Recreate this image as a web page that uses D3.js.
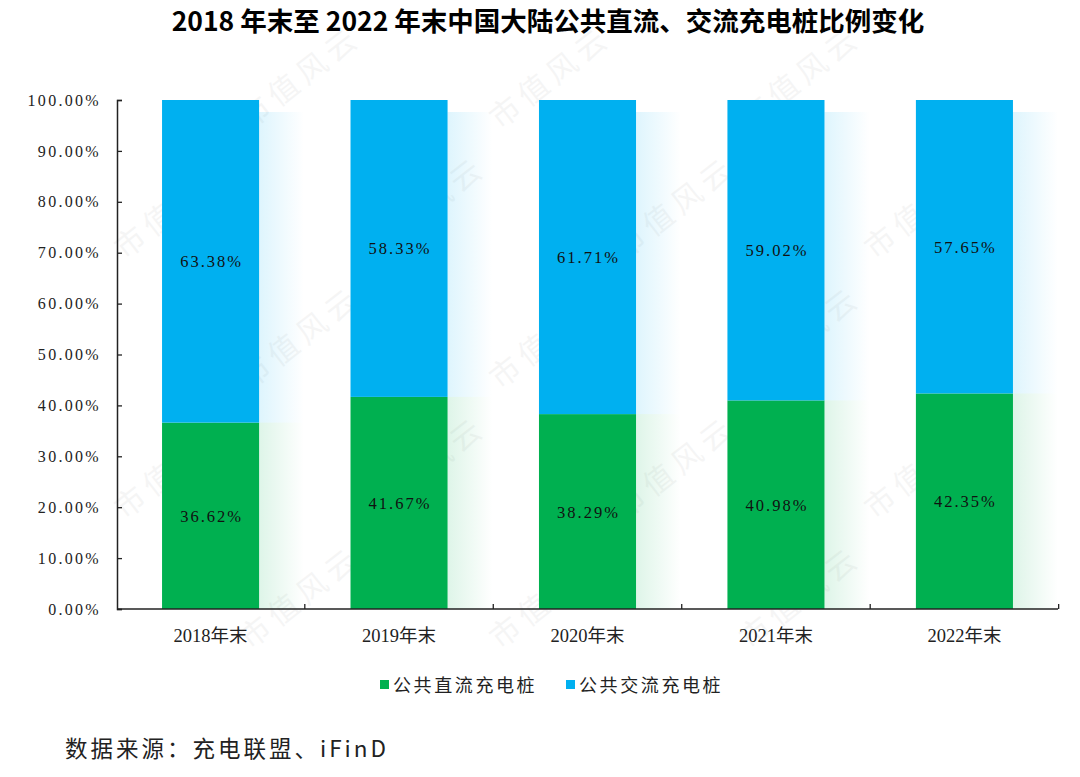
<!DOCTYPE html>
<meta charset="utf-8">
<style>
  body { margin: 0; background: #fff; }
  text { font-family: "Liberation Serif", "Noto Sans CJK SC", serif; }
  .title { font-family: "Noto Sans CJK SC", sans-serif; font-weight: 700; font-size: 26.5px; }
  .tick text { font-size: 16px; fill: #222; letter-spacing: 2.3px; }
  .xlab { font-size: 18.5px; fill: #222; }
  .val { font-size: 16.5px; fill: #111; letter-spacing: 2px; }
  .legend text { font-family: "Noto Sans CJK SC", serif; font-size: 18px; fill: #222; letter-spacing: 2.6px; }
  .src { font-family: "Noto Sans CJK SC", serif; font-size: 22.5px; fill: #222; letter-spacing: 3px; }
  .wm { font-family: "Noto Sans CJK SC", sans-serif; font-size: 30px; fill: #000; opacity: 0.035; letter-spacing: 6px; }
</style>
<body>
<div id="chart"></div>
<script src="https://cdnjs.cloudflare.com/ajax/libs/d3/7.8.5/d3.min.js"></script>
<script>

// data
var years = ["2018年末", "2019年末", "2020年末", "2021年末", "2022年末"];
var dcShare = [36.62, 41.67, 38.29, 40.98, 42.35];   // 公共直流充电桩
var acShare = [63.38, 58.33, 61.71, 59.02, 57.65];   // 公共交流充电桩
var seriesNames = ["公共直流充电桩", "公共交流充电桩"];
var yTicks = [0, 10, 20, 30, 40, 50, 60, 70, 80, 90, 100];

var colors = ["#00B050", "#00B0F0"];

var width = 1080, height = 777;
var margin = {top: 100, left: 117, right: 22, bottom: 168};

var svg = d3.select("#chart").append("svg")
    .attr("width", width)
    .attr("height", height);

// faint watermark, only where it fits fully inside the picture
var wm = svg.append("g");
for (var r = 0; r < 6; r++) {
  for (var c = 0; c < 5; c++) {
    var wx = c * 250 + (r % 2) * 125;
    var wy = 130 + r * 130;
    var t = wm.append("text")
      .attr("class", "wm")
      .attr("transform", "translate(" + wx + "," + wy + ") rotate(-38)")
      .text("市值风云");
    var b = t.node().getBoundingClientRect();
    if (b.left < 2 || b.top < 2 || b.right > width - 2 || b.bottom > height - 2) t.remove();
  }
}

svg.append("text")
    .attr("class", "title")
    .attr("x", 548)
    .attr("y", 31)
    .attr("text-anchor", "middle")
    .text("2018 年末至 2022 年末中国大陆公共直流、交流充电桩比例变化");

var x = d3.scaleBand()
    .domain(years)
    .range([margin.left, width - margin.right])
    .paddingInner(0.485)
    .paddingOuter(0.239);

var y = d3.scaleLinear()
    .domain([0, 100])
    .range([height - margin.bottom, margin.top]);

// stacked data
var rows = years.map(function(yr, i) { return {year: yr, dc: dcShare[i], ac: acShare[i]}; });
var stack = d3.stack().keys(["dc", "ac"])(rows);

var defs = svg.append("defs");
colors.forEach(function(col, i) {
  var g = defs.append("linearGradient").attr("id", "shade" + i);
  g.append("stop").attr("offset", "0%").attr("stop-color", col).attr("stop-opacity", 0.13);
  g.append("stop").attr("offset", "100%").attr("stop-color", col).attr("stop-opacity", 0);
});

// soft shadows to the right of the bars
stack.forEach(function(layer, li) {
  svg.append("g").selectAll("rect")
    .data(layer)
    .enter().append("rect")
      .attr("x", function(d) { return x(d.data.year) + x.bandwidth(); })
      .attr("y", function(d) { return y(d[1]) + (li == 1 ? 12 : 0); })
      .attr("width", 45)
      .attr("height", function(d) { return y(d[0]) - y(d[1]) - (li == 1 ? 12 : 0); })
      .attr("fill", "url(#shade" + li + ")");
});

stack.forEach(function(layer, li) {
  var g = svg.append("g");
  g.selectAll("rect")
    .data(layer)
    .enter().append("rect")
      .attr("x", function(d) { return x(d.data.year); })
      .attr("y", function(d) { return y(d[1]); })
      .attr("width", x.bandwidth())
      .attr("height", function(d) { return y(d[0]) - y(d[1]); })
      .attr("fill", colors[li]);
  g.selectAll("text")
    .data(layer)
    .enter().append("text")
      .attr("class", "val")
      .attr("x", function(d) { return x(d.data.year) + x.bandwidth() / 2 + 1; })
      .attr("y", function(d) { return (y(d[0]) + y(d[1])) / 2 + 6; })
      .attr("text-anchor", "middle")
      .text(function(d) { return (d[1] - d[0]).toFixed(2) + "%"; });
});

// y axis
var yAxis = svg.append("g")
    .attr("transform", "translate(" + margin.left + ",0)")
    .call(d3.axisRight(y).tickValues(yTicks).tickSize(5)
      .tickFormat(function(d) { return d.toFixed(2) + "%"; }));
yAxis.select(".domain").attr("stroke", "#222").attr("stroke-width", 1.5);
yAxis.selectAll(".tick line").attr("stroke", "#222").attr("stroke-width", 1.3);
yAxis.selectAll(".tick text")
    .attr("x", -16)
    .attr("text-anchor", "end");

// x axis: baseline and upward ticks at category boundaries
var x0 = margin.left, x1 = width - margin.right, base = y(0);
svg.append("line")
    .attr("x1", x0).attr("x2", x1)
    .attr("y1", base).attr("y2", base)
    .attr("stroke", "#222").attr("stroke-width", 1.5);
var step = x.step();
svg.append("g").selectAll("line")
    .data(years)
    .enter().append("line")
      .attr("x1", function(d) { return x(d) + x.bandwidth() / 2 + step / 2; })
      .attr("x2", function(d) { return x(d) + x.bandwidth() / 2 + step / 2; })
      .attr("y1", base).attr("y2", base - 5)
      .attr("stroke", "#222").attr("stroke-width", 1.3);
svg.append("g").selectAll("text")
    .data(years)
    .enter().append("text")
      .attr("class", "xlab")
      .attr("x", function(d) { return x(d) + x.bandwidth() / 2; })
      .attr("y", base + 33)
      .attr("text-anchor", "middle")
      .text(function(d) { return d; });

// legend
var legend = svg.append("g").attr("class", "legend");
var lx = [380, 566];
seriesNames.forEach(function(name, i) {
  legend.append("rect")
    .attr("x", lx[i]).attr("y", 680)
    .attr("width", 9).attr("height", 9)
    .attr("fill", colors[i]);
  legend.append("text")
    .attr("x", lx[i] + 13).attr("y", 692)
    .text(name);
});

svg.append("text")
    .attr("class", "src")
    .attr("x", 65)
    .attr("y", 757)
    .text("数据来源：充电联盟、iFinD");

</script>
</body>
